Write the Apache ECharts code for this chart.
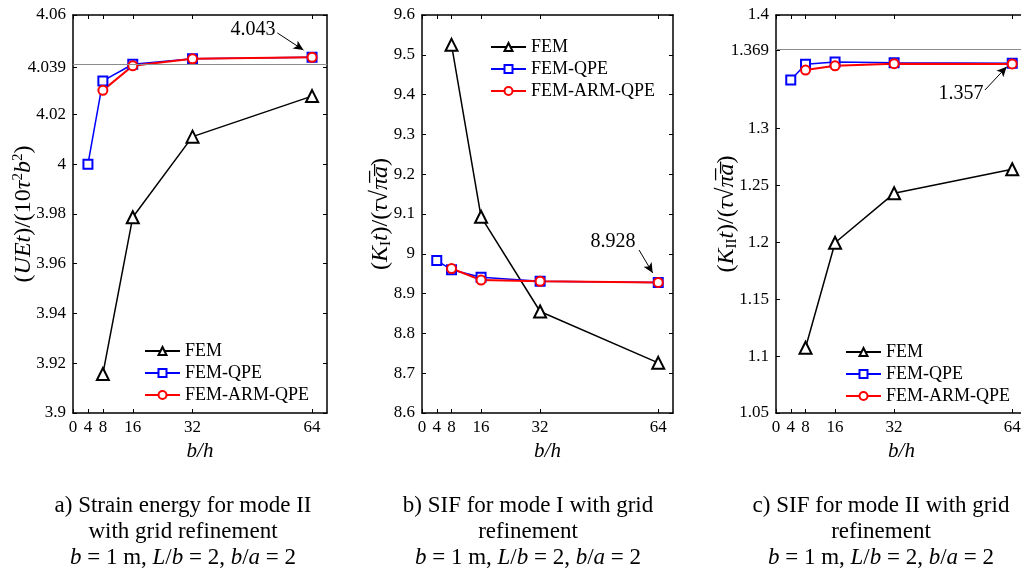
<!DOCTYPE html>
<html>
<head>
<meta charset="utf-8">
<script src="https://cdn.jsdelivr.net/npm/echarts@6/dist/echarts.min.js"></script>
<style>
html,body{margin:0;padding:0;background:#fff}
#main{width:1021px;height:573px}
</style>
</head>
<body>
<div id="main"></div>
<script>
var FONT = 'Liberation Serif';

// x 刻度 b/h
var bhTicks = [0, 4, 8, 16, 32, 64];
var xFem = [8, 16, 32, 64];
var xQpe = [4, 8, 16, 32, 64];
var xArm = [8, 16, 32, 64];

// a) 应变能
var energyFem = [3.9157, 3.9787, 4.0111, 4.0274];
var energyQpe = [4.0000, 4.0335, 4.0402, 4.0424, 4.0430];
var energyArm = [4.0297, 4.0396, 4.0424, 4.0430];
var energyTicks = [3.9, 3.92, 3.94, 3.96, 3.98, 4, 4.02, 4.039, 4.06];

// b) 模式 I SIF
var sif1Fem = [9.525, 9.093, 8.855, 8.726];
var sif1Qpe = [8.983, 8.960, 8.941, 8.931, 8.928];
var sif1Arm = [8.963, 8.934, 8.931, 8.928];
var sif1Ticks = [8.6, 8.7, 8.8, 8.9, 9, 9.1, 9.2, 9.3, 9.4, 9.5, 9.6];

// c) 模式 II SIF
var sif2Fem = [1.1074, 1.1997, 1.2432, 1.2643];
var sif2Qpe = [1.3428, 1.3566, 1.3587, 1.3580, 1.3576];
var sif2Arm = [1.3516, 1.3553, 1.3572, 1.3570];
var sif2Ticks = [1.05, 1.1, 1.15, 1.2, 1.25, 1.3, 1.369, 1.4];

var names = ['FEM', 'FEM-QPE', 'FEM-ARM-QPE'];

function pairs(xs, ys) {
	var out = [];
	for (var i = 0; i < xs.length; i++) out.push([xs[i], ys[i]]);
	return out;
}

var richName = {
	n: {fontFamily: FONT, fontSize: 24, color: '#000', lineHeight: 26},
	i: {fontFamily: FONT, fontSize: 24, fontStyle: 'italic', color: '#000', lineHeight: 26},
	s: {fontFamily: FONT, fontSize: 15, color: '#000', verticalAlign: 'top', lineHeight: 15},
	sub: {fontFamily: FONT, fontSize: 15, color: '#000', verticalAlign: 'bottom', lineHeight: 15}
};

var xAxes = [], yAxes = [];
function addAxes(g, ymin, ymax, yticks, yname, ygap) {
	var line = {show: true, onZero: false, lineStyle: {color: '#000', width: 1.5}};
	xAxes.push({
		gridIndex: g, type: 'value', min: 0, max: 68, position: 'bottom',
		name: 'b/h', nameLocation: 'middle', nameGap: 28, nameMoveOverlap: false,
		nameTextStyle: {fontFamily: FONT, fontSize: 21, fontStyle: 'italic', color: '#000'},
		axisLine: line,
		axisTick: {show: true, inside: true, length: 4, customValues: bhTicks, lineStyle: {color: '#000'}},
		axisLabel: {customValues: bhTicks, fontFamily: FONT, fontSize: 17, color: '#000', margin: 6},
		splitLine: {show: false}
	});
	xAxes.push({
		gridIndex: g, type: 'value', min: 0, max: 68, position: 'top',
		axisLine: line,
		axisTick: {show: true, inside: true, length: 4, customValues: bhTicks, lineStyle: {color: '#000'}},
		axisLabel: {show: false},
		splitLine: {show: false}
	});
	yAxes.push({
		gridIndex: g, type: 'value', min: ymin, max: ymax, position: 'left',
		name: yname, nameLocation: 'middle', nameGap: ygap, nameRotate: 90, nameMoveOverlap: false,
		nameTextStyle: {fontFamily: FONT, fontSize: 24, color: '#000', rich: richName},
		axisLine: line,
		axisTick: {show: true, inside: true, length: 4, customValues: yticks, lineStyle: {color: '#000'}},
		axisLabel: {customValues: yticks, fontFamily: FONT, fontSize: 17, color: '#000', margin: 7},
		splitLine: {show: false}
	});
	yAxes.push({
		gridIndex: g, type: 'value', min: ymin, max: ymax, position: 'right',
		axisLine: line,
		axisTick: {show: true, inside: true, length: 4, customValues: yticks, lineStyle: {color: '#000'}},
		axisLabel: {show: false},
		splitLine: {show: false}
	});
}

addAxes(0, 3.9, 4.06, energyTicks,
	'{n|(}{i|UEt}{n|)/(10}{i|τ}{s|2}{i|b}{s|2}{n|)}', 36);
addAxes(1, 8.6, 9.6, sif1Ticks,
	'{n|(}{i|K}{sub|I}{i|t}{n|)/(}{i|τ}{n|√}{i|π\u0305a\u0305}{n|)}', 28);
addAxes(2, 1.05, 1.4, sif2Ticks,
	'{n|(}{i|K}{sub|II}{i|t}{n|)/(}{i|τ}{n|√}{i|π\u0305a\u0305}{n|)}', 36);

function arrowLine(x1, y1, x2, y2) {
	return {
		silent: true, symbol: ['none', 'arrow'], symbolSize: [7, 10],
		lineStyle: {color: '#000', width: 1, type: 'solid'},
		label: {show: false},
		data: [[{coord: [x1, y1]}, {coord: [x2, y2]}]]
	};
}
function refLine(v) {
	return {
		silent: true, symbol: ['none', 'none'],
		lineStyle: {color: '#8c8c8c', width: 1, type: 'solid'},
		label: {show: false},
		data: [{yAxis: v}]
	};
}

var series = [];
function addSeries(g, fem, qpe, arm, femMark, qpeMark) {
	series.push({
		name: 'FEM', type: 'line', xAxisIndex: g * 2, yAxisIndex: g * 2,
		data: pairs(xFem, fem), symbol: 'emptyTriangle', symbolSize: 12,
		lineStyle: {color: '#000', width: 1.5}, itemStyle: {color: '#000', borderWidth: 1.5},
		markLine: femMark
	});
	series.push({
		name: 'FEM-QPE', type: 'line', xAxisIndex: g * 2, yAxisIndex: g * 2,
		data: pairs(xQpe, qpe), symbol: 'emptyRect', symbolSize: 9,
		lineStyle: {color: '#0000ff', width: 1.5}, itemStyle: {color: '#0000ff', borderWidth: 1.5},
		markLine: qpeMark
	});
	series.push({
		name: 'FEM-ARM-QPE', type: 'line', xAxisIndex: g * 2, yAxisIndex: g * 2,
		data: pairs(xArm, arm), symbol: 'emptyCircle', symbolSize: 9,
		lineStyle: {color: '#ff0000', width: 2}, itemStyle: {color: '#ff0000', borderWidth: 1.5}
	});
}
addSeries(0, energyFem, energyQpe, energyArm, arrowLine(54.7, 4.0528, 61.7, 4.0459), refLine(4.039));
addSeries(1, sif1Fem, sif1Qpe, sif1Arm, arrowLine(58.8, 9.0095, 62.5, 8.9518), undefined);
addSeries(2, sif2Fem, sif2Qpe, sif2Arm, arrowLine(56.6, 1.334, 62.5, 1.3545), refLine(1.369));

function legendAt(left, top) {
	return {
		data: names, orient: 'vertical', left: left, top: top,
		itemWidth: 35, itemHeight: 10, itemGap: 4, selectedMode: false,
		textStyle: {fontFamily: FONT, fontSize: 18, color: '#000'}
	};
}

var capRich = {
	n: {fontFamily: FONT, fontSize: 23, fill: '#000'},
	i: {fontFamily: FONT, fontSize: 23, fontStyle: 'italic', fill: '#000'}
};
function txt(x, y, text, size) {
	return {
		type: 'text', x: x, y: y, silent: true,
		style: {text: text, fontFamily: FONT, fontSize: size, fill: '#000',
			align: 'center', verticalAlign: 'middle', rich: capRich}
	};
}
var paramLine = '{i|b}{n| = 1 m, }{i|L}{n|/}{i|b}{n| = 2, }{i|b}{n|/}{i|a}{n| = 2}';
var graphics = [
	txt(253, 30, '4.043', 20),
	txt(613, 242, '8.928', 20),
	txt(961, 94, '1.357', 20),
	txt(183, 506, 'a) Strain energy for mode II', 23),
	txt(183, 532, 'with grid refinement', 23),
	txt(183, 558, paramLine, 23),
	txt(528, 506, 'b) SIF for mode I with grid', 23),
	txt(528, 532, 'refinement', 23),
	txt(528, 558, paramLine, 23),
	txt(881, 506, 'c) SIF for mode II with grid', 23),
	txt(881, 532, 'refinement', 23),
	txt(881, 558, paramLine, 23)
];

var chart = echarts.init(document.getElementById('main'));
var option = {
	backgroundColor: '#fff',
	animation: false,
	textStyle: {fontFamily: FONT, color: '#000'},
	grid: [
		{left: 73, top: 15, width: 254, height: 398, outerBoundsMode: 'none'},
		{left: 422, top: 15, width: 251, height: 398, outerBoundsMode: 'none'},
		{left: 776, top: 15, width: 251, height: 398, outerBoundsMode: 'none'}
	],
	xAxis: xAxes,
	yAxis: yAxes,
	legend: [legendAt(139, 337), legendAt(485, 33), legendAt(840, 338)],
	graphic: graphics,
	series: series
};
chart.setOption(option);
window.onresize = chart.resize;
</script>
</body>
</html>
